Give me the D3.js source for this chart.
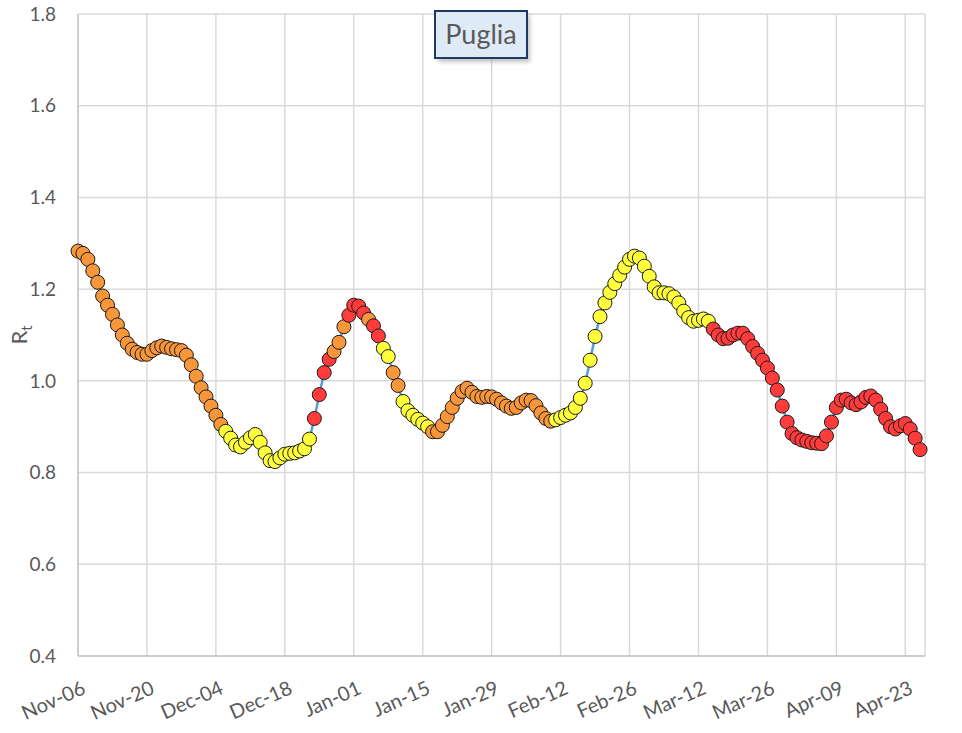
<!DOCTYPE html>
<html>
<head>
<meta charset="utf-8">
<script src="https://cdn.jsdelivr.net/npm/d3@7"></script>
<style>
  body { margin: 0; background: #fff; }
  svg { font-family: Lato, "Open Sans", sans-serif; }
</style>
</head>
<body>
<div id="chart"></div>
<script>
const title = "Puglia";
const startDate = "2020-11-06";
const endDate = "2021-04-27";

// daily Rt values from Nov-06
const rt = [
  1.283, 1.278, 1.265, 1.240, 1.215, 1.185, 1.165, 1.145, 1.122, 1.100,
  1.082, 1.069, 1.062, 1.058, 1.058, 1.066, 1.072, 1.076, 1.073, 1.070,
  1.068, 1.066, 1.056, 1.035, 1.010, 0.985, 0.965, 0.945, 0.925, 0.905,
  0.890, 0.875, 0.860, 0.856, 0.866, 0.876, 0.883, 0.866, 0.843, 0.826,
  0.824, 0.832, 0.840, 0.842, 0.843, 0.847, 0.852, 0.873, 0.918, 0.970,
  1.018, 1.047, 1.064, 1.084, 1.118, 1.143, 1.165, 1.163, 1.148, 1.134,
  1.120, 1.098, 1.071, 1.053, 1.018, 0.990, 0.955, 0.935, 0.925, 0.916,
  0.908, 0.900, 0.889, 0.889, 0.903, 0.922, 0.942, 0.962, 0.977, 0.984,
  0.975, 0.966, 0.964, 0.966, 0.965, 0.960, 0.952, 0.945, 0.940, 0.942,
  0.952, 0.958, 0.957, 0.946, 0.930, 0.918, 0.912, 0.915, 0.920, 0.925,
  0.930, 0.942, 0.962, 0.995, 1.045, 1.097, 1.140, 1.170, 1.193, 1.212,
  1.230, 1.248, 1.265, 1.272, 1.268, 1.250, 1.228, 1.205, 1.192, 1.192,
  1.190, 1.183, 1.170, 1.152, 1.138, 1.130, 1.132, 1.135, 1.130, 1.113,
  1.100, 1.092, 1.093, 1.100, 1.104, 1.104, 1.092, 1.075, 1.060, 1.045,
  1.028, 1.006, 0.980, 0.945, 0.910, 0.885, 0.876, 0.871, 0.868, 0.865,
  0.864, 0.863, 0.880, 0.910, 0.942, 0.958, 0.960, 0.952, 0.948, 0.954,
  0.964, 0.967, 0.958, 0.938, 0.918, 0.900, 0.895, 0.902, 0.907, 0.895,
  0.875, 0.850
];

// colour class of the dots, as runs [class, number of days]
const levelRuns = [
  ["orange", 30], ["yellow", 18], ["red", 4], ["orange", 3], ["red", 4],
  ["orange", 1], ["red", 2], ["yellow", 2], ["orange", 2], ["yellow", 6],
  ["orange", 25], ["yellow", 32], ["red", 43]
];

const yTicks = [0.4, 0.6, 0.8, 1.0, 1.2, 1.4, 1.6, 1.8];
const xTickLabels = ["Nov-06", "Nov-20", "Dec-04", "Dec-18", "Jan-01", "Jan-15", "Jan-29",
  "Feb-12", "Feb-26", "Mar-12", "Mar-26", "Apr-09", "Apr-23"];

const levelColor = { orange: "#F7963A", yellow: "#FFFF3B", red: "#FF3B3B" };

const width = 962, height = 733;
const margin = { top: 14, right: 37, bottom: 77, left: 78 };

const parse = d3.utcParse("%Y-%m-%d");
const t0 = parse(startDate);
const levels = levelRuns.flatMap(([k, n]) => Array(n).fill(k));
const data = rt.map((v, i) => ({ date: d3.utcDay.offset(t0, i), value: v, level: levels[i] }));

const x = d3.scaleUtc()
  .domain([t0, parse(endDate)])
  .range([margin.left, width - margin.right]);

const y = d3.scaleLinear()
  .domain([0.4, 1.8])
  .range([height - margin.bottom, margin.top]);

const svg = d3.select("#chart").append("svg")
  .attr("width", width)
  .attr("height", height);

const tickDates = xTickLabels.map((_, i) => d3.utcDay.offset(t0, i * 14));

// grid
svg.append("g")
  .selectAll("line")
  .data(yTicks.slice(1))
  .join("line")
    .attr("x1", margin.left).attr("x2", width - margin.right)
    .attr("y1", d => y(d)).attr("y2", d => y(d))
    .attr("stroke", "#D9D9D9").attr("stroke-width", 1.5);

svg.append("g")
  .selectAll("line")
  .data(tickDates.slice(1).concat([parse(endDate)]))
  .join("line")
    .attr("x1", d => x(d)).attr("x2", d => x(d))
    .attr("y1", y(0.4)).attr("y2", y(1.8))
    .attr("stroke", "#D9D9D9").attr("stroke-width", 1.5);

// axes lines
svg.append("line")
  .attr("x1", margin.left).attr("x2", width - margin.right)
  .attr("y1", y(0.4)).attr("y2", y(0.4))
  .attr("stroke", "#BFBFBF").attr("stroke-width", 1.5);
svg.append("line")
  .attr("x1", margin.left).attr("x2", margin.left)
  .attr("y1", y(0.4)).attr("y2", y(1.8))
  .attr("stroke", "#BFBFBF").attr("stroke-width", 1.5);

// y tick labels
svg.append("g")
  .selectAll("text")
  .data(yTicks)
  .join("text")
    .attr("x", 56)
    .attr("y", d => y(d))
    .attr("dy", "0.35em")
    .attr("text-anchor", "end")
    .attr("fill", "#595959")
    .style("font-size", "19px")
    .text(d3.format(".1f"));

// x tick labels
svg.append("g")
  .selectAll("text")
  .data(tickDates)
  .join("text")
    .attr("transform", d => `translate(${x(d) + 3},${y(0.4) + 24}) rotate(-24)`)
    .attr("text-anchor", "end")
    .attr("dy", "0.71em")
    .attr("fill", "#595959")
    .style("font-size", "20px")
    .text((d, i) => xTickLabels[i]);

// y label
const yl = svg.append("text")
  .attr("transform", `translate(27,${y(1.1)}) rotate(-90)`)
  .attr("text-anchor", "middle")
  .attr("fill", "#595959")
  .style("font-size", "22px");
yl.append("tspan").text("R");
yl.append("tspan").attr("dy", 5).style("font-size", "15px").text("t");

// line
svg.append("path")
  .datum(data)
  .attr("fill", "none")
  .attr("stroke", "#5B9BD5")
  .attr("stroke-width", 2.5)
  .attr("d", d3.line().x(d => x(d.date)).y(d => y(d.value)));

// dots
svg.append("g")
  .selectAll("circle")
  .data(data)
  .join("circle")
    .attr("cx", d => x(d.date))
    .attr("cy", d => y(d.value))
    .attr("r", 7)
    .attr("fill", d => levelColor[d.level])
    .attr("stroke", "#1a1a1a")
    .attr("stroke-width", 1);

// title box
const tb = svg.append("g").attr("transform", "translate(435,11)");
tb.append("rect")
  .attr("x", 3).attr("y", 4).attr("width", 92).attr("height", 47)
  .attr("fill", "#888").attr("opacity", 0.5)
  .attr("filter", "blur(2px)");
tb.append("rect")
  .attr("width", 92).attr("height", 47)
  .attr("fill", "#DEEBF7")
  .attr("stroke", "#1F3864").attr("stroke-width", 2);
tb.append("text")
  .attr("x", 46).attr("y", 24).attr("dy", "0.35em")
  .attr("text-anchor", "middle")
  .attr("fill", "#595959")
  .style("font-size", "27px")
  .text(title);
</script>
</body>
</html>
